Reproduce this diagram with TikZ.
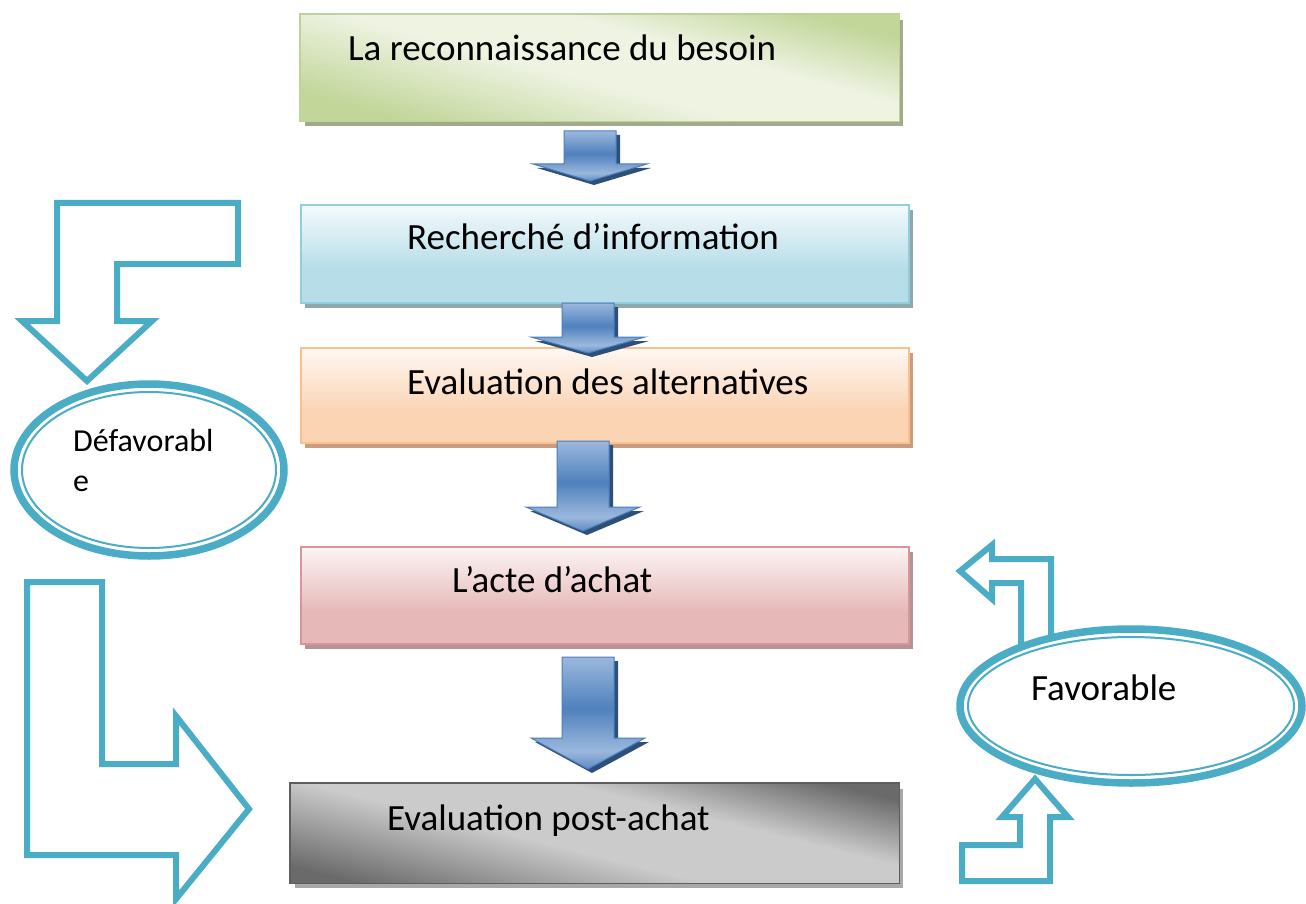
\documentclass[tikz,border=0pt]{standalone}
\usepackage{fontspec}
\setmainfont{Carlito}
\usetikzlibrary{shapes.geometric,shadows,calc}

% palette
\definecolor{accent}{HTML}{4BACC6}
\definecolor{grnD}{HTML}{C2D69A}
\definecolor{grnL}{HTML}{EEF3E2}
\definecolor{grnB}{HTML}{BFD399}
\definecolor{grnS}{HTML}{A2AA8C}
\definecolor{bluD}{HTML}{B6DDE8}
\definecolor{bluL}{HTML}{F4FAFC}
\definecolor{bluB}{HTML}{92CDDC}
\definecolor{bluS}{HTML}{8FA7AE}
\definecolor{orgD}{HTML}{FBD4B4}
\definecolor{orgL}{HTML}{FEF8F3}
\definecolor{orgB}{HTML}{FAC08F}
\definecolor{orgS}{HTML}{C89C7C}
\definecolor{redD}{HTML}{E6B9B8}
\definecolor{redL}{HTML}{FCF5F5}
\definecolor{redB}{HTML}{D99694}
\definecolor{redS}{HTML}{B39393}
\definecolor{gryD}{HTML}{6A6A6A}
\definecolor{gryL}{HTML}{CBCBCB}
\definecolor{gryB}{HTML}{5E5E5E}
\definecolor{gryS}{HTML}{A8A8A8}
\definecolor{arrL}{HTML}{9BB8DD}
\definecolor{arrM}{HTML}{4F81BD}
\definecolor{arrB}{HTML}{4A7EBB}
\definecolor{arrS}{HTML}{2E4F78}

% diagonal bands (dark corner, light middle, dark corner)
\pgfdeclarehorizontalshading{greenband}{100bp}{color(0bp)=(grnD); color(31bp)=(grnD); color(47bp)=(grnL); color(58bp)=(grnL); color(70bp)=(grnD); color(100bp)=(grnD)}
\pgfdeclarehorizontalshading{greyband}{100bp}{color(0bp)=(gryD); color(30bp)=(gryD); color(46bp)=(gryL); color(58bp)=(gryL); color(70bp)=(gryD); color(100bp)=(gryD)}
% top-to-bottom fades
\pgfdeclareverticalshading{bluefade}{100bp}{color(0bp)=(bluD); color(42bp)=(bluD); color(75bp)=(bluL); color(100bp)=(bluL)}
\pgfdeclareverticalshading{orangefade}{100bp}{color(0bp)=(orgD); color(42bp)=(orgD); color(75bp)=(orgL); color(100bp)=(orgL)}
\pgfdeclareverticalshading{redfade}{100bp}{color(0bp)=(redD); color(42bp)=(redD); color(75bp)=(redL); color(100bp)=(redL)}
% block arrow fill
\pgfdeclareverticalshading{arrowfill}{100bp}{color(0bp)=(arrM); color(25bp)=(arrM!80!arrL); color(33bp)=(arrL); color(52bp)=(arrM); color(75bp)=(arrL); color(100bp)=(arrL)}

\tikzset{
  stagebox/.style={rectangle, line width=1.6pt, anchor=north west, inner sep=0pt},
  stagetext/.style={anchor=base west, inner sep=0pt, font=\fontsize{37}{44}\selectfont},
  hollowarrow/.style={draw=accent, line width=6pt, line join=miter, miter limit=10},
  ringthick/.style={draw=accent, line width=7.5pt, fill=white},
  ringthin/.style={draw=accent, line width=2pt},
}

% block arrow: centre x, top y, head base y, tip y
\newcommand\flowarrow[4]{%
  \fill[arrS, shift={(4,4)}] (#1-26,#2) -- (#1+26,#2) -- (#1+26,#3) -- (#1+57,#3) -- (#1,#4) -- (#1-57,#3) -- (#1-26,#3) -- cycle;
  \shade[shading=arrowfill, draw=arrB, line width=1pt, line join=miter]
    (#1-26,#2) -- (#1+26,#2) -- (#1+26,#3) -- (#1+57,#3) -- (#1,#4) -- (#1-57,#3) -- (#1-26,#3) -- cycle;
}

% diagonal band fill of a box: node, band angle, half band width, shading, border colour
\newcommand\bandfill[5]{%
  \begin{scope}
    \clip (#1.south west) rectangle (#1.north east);
    \begin{scope}[transform canvas={rotate around={#2:(#1.center)}}]
      \shade[shading=#4] ($(#1.center)+(-#3,-420)$) rectangle ($(#1.center)+(#3,420)$);
    \end{scope}
  \end{scope}
  \draw[#5, line width=1.6pt] (#1.south west) rectangle (#1.north east);
}

\begin{document}
\begin{tikzpicture}[x=1pt,y=-1pt]
\useasboundingbox (0,0) rectangle (1306,904);

% stage boxes
\node[stagebox, fill=white,
  general shadow={fill=grnS, shadow xshift=4pt, shadow yshift=-5pt},
  minimum width=598pt, minimum height=106pt] (b1) at (300,14) {};
\bandfill{b1}{75}{132}{greenband}{grnB}
\node[stagebox, draw=bluB, shading=bluefade,
  general shadow={fill=bluS, shadow xshift=4pt, shadow yshift=-5pt},
  minimum width=608pt, minimum height=98pt] (b2) at (300,204) {};
\node[stagebox, draw=orgB, shading=orangefade,
  general shadow={fill=orgS, shadow xshift=4pt, shadow yshift=-5pt},
  minimum width=608pt, minimum height=95pt] (b3) at (300,347) {};
\node[stagebox, draw=redB, shading=redfade,
  general shadow={fill=redS, shadow xshift=4pt, shadow yshift=-5pt},
  minimum width=608pt, minimum height=97pt] (b4) at (300,546) {};
\node[stagebox, fill=white,
  general shadow={fill=gryS, shadow xshift=4pt, shadow yshift=-5pt},
  minimum width=608pt, minimum height=99pt] (b5) at (290,783) {};
\bandfill{b5}{76}{132}{greyband}{gryB}

% stage labels
\node[stagetext] (t1) at (348,61) {La reconnaissance du besoin};
\node[stagetext] (t2) at (407,249) {Recherché d’information};
\node[stagetext] (t3) at (407,394) {Evaluation des alternatives};
\node[stagetext] (t4) at (452,592) {L’acte d’achat};
\node[stagetext] (t5) at (387,830) {Evaluation post-achat};

% block arrows between stages
\flowarrow{590}{131}{164}{181}
\flowarrow{588}{303}{337}{353}
\flowarrow{583}{441}{507}{531}
\flowarrow{588}{657}{738}{769}

% hollow elbow arrows
\draw[hollowarrow] (57,203) -- (238,203) -- (238,264) -- (117,264) -- (117,321)
  -- (152,321) -- (87,381) -- (22,321) -- (57,321) -- cycle;
\draw[hollowarrow] (27,582) -- (102,582) -- (102,764) -- (176,764) -- (176,716)
  -- (249,809) -- (176,899) -- (176,855) -- (27,855) -- cycle;
\draw[hollowarrow] (1051,650) -- (1051,559) -- (992,559) -- (992,545) -- (960,571)
  -- (992,599) -- (992,583) -- (1021,583) -- (1021,650);
\draw[hollowarrow] (1035,779) -- (1068,817) -- (1050,817) -- (1050,881) -- (962,881)
  -- (962,845) -- (1020,845) -- (1020,817) -- (1002,817) -- cycle;

% outcome rings
\node[ellipse, ringthick, minimum width=270pt, minimum height=172pt, inner sep=0pt] (e1) at (149,470) {};
\draw[ringthin] (e1.center) ellipse [x radius=127, y radius=78];
\node[ellipse, ringthick, minimum width=342pt, minimum height=154pt, inner sep=0pt] (e2) at (1131,706) {};
\draw[ringthin] (e2.center) ellipse [x radius=163, y radius=69];

\node[anchor=base west, inner sep=0pt, align=left, font=\fontsize{32}{40}\selectfont] (l1) at (73,491) {Défavorabl\\e};
\node[stagetext] (l2) at (1031,700) {Favorable};
\end{tikzpicture}
\end{document}
